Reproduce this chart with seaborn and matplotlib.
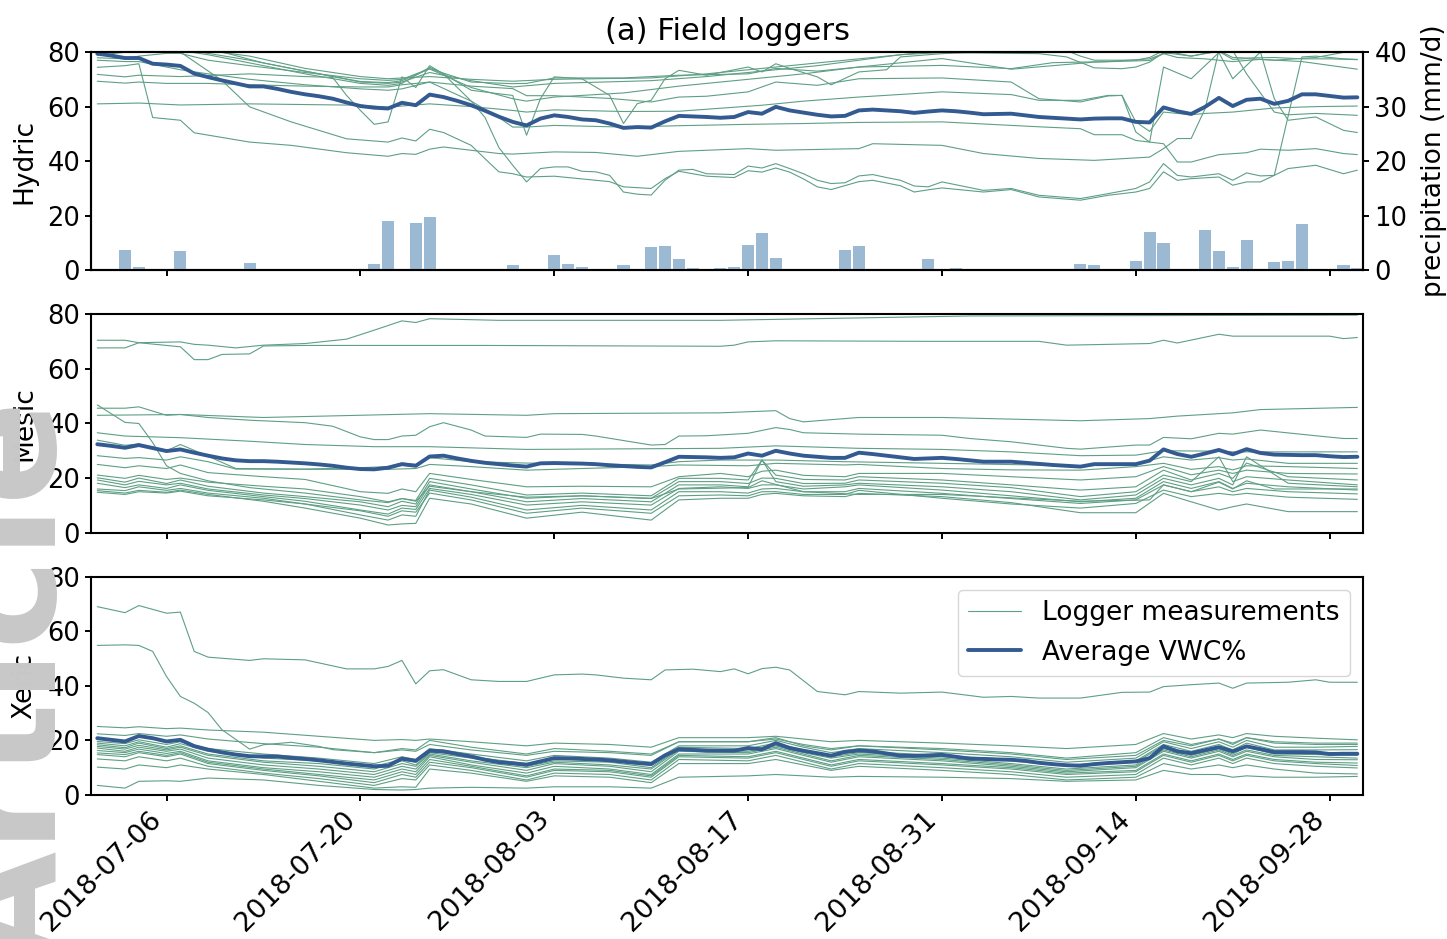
import numpy as np
import pandas as pd
import matplotlib
matplotlib.use("Agg")
import matplotlib.pyplot as plt
import matplotlib.dates as mdates
from matplotlib.lines import Line2D
import seaborn as sns

# ---------------------------------------------------------------- data
START = pd.Timestamp("2018-07-01")
N_DAYS = 92                      # 2018-07-01 .. 2018-09-30

# daily precipitation (mm/d): days after 1 July with rain, and amounts
precip_days = [2, 3, 6, 11, 20, 21, 23, 24, 30, 33, 34, 35, 38, 40, 41, 42, 43,
               45, 46, 47, 48, 49, 54, 55, 60, 62, 71, 72, 75, 76, 77, 80, 81,
               82, 83, 85, 86, 87, 90, 91]
precip_mm = [3.7, 0.7, 3.5, 1.3, 1.1, 9.0, 8.6, 9.7, 0.9, 2.75, 1.1, 0.55, 0.9,
             4.2, 4.4, 2.0, 0.4, 0.4, 0.55, 4.6, 6.8, 2.2, 3.7, 4.4, 2.0, 0.4,
             1.1, 0.9, 1.65, 7.1, 5.1, 7.3, 3.5, 0.55, 5.5, 1.5, 1.65, 8.4, 0.9,
             0.4]

# daily average VWC% per site class
hydric_avg = [79.4, 78.7, 77.8, 77.8, 75.7, 75.4, 74.9, 72.1, 70.8, 69.6, 68.5,
              67.4, 67.4, 66.5, 65.4, 64.5, 63.8, 62.9, 61.5, 60.2, 59.6, 59.3,
              61.4, 60.5, 64.4, 63.5, 62.1, 60.5, 58.5, 56.3, 54.4, 53.1, 55.6,
              56.8, 56.2, 55.3, 55.0, 53.8, 52.2, 52.5, 52.3, 54.6, 56.6, 56.4,
              56.2, 55.9, 56.2, 58.0, 57.4, 59.9, 58.6, 57.8, 57.0, 56.4, 56.6,
              58.6, 58.9, 58.6, 58.3, 57.7, 58.2, 58.6, 58.3, 57.8, 57.2, 57.3,
              57.4, 56.8, 56.2, 55.9, 55.6, 55.3, 55.6, 55.7, 55.7, 54.4, 54.2,
              59.7, 58.3, 57.3, 59.9, 63.2, 60.2, 62.5, 62.9, 61.0, 62.1, 64.5,
              64.5, 63.9, 63.3, 63.4]
mesic_avg = [32.4, 31.8, 31.1, 32.1, 31.0, 29.9, 30.5, 29.3, 28.2, 27.2, 26.5,
             26.2, 26.2, 26.0, 25.7, 25.4, 25.0, 24.5, 23.8, 23.3, 23.2, 23.8,
             25.1, 24.5, 27.9, 28.2, 27.2, 26.3, 25.6, 25.1, 24.6, 24.2, 25.4,
             25.5, 25.4, 25.3, 25.1, 24.7, 24.4, 24.1, 23.9, 25.8, 27.8, 27.7,
             27.6, 27.4, 27.6, 29.0, 28.2, 30.0, 29.0, 28.2, 27.8, 27.4, 27.4,
             29.3, 28.8, 28.2, 27.6, 27.0, 27.2, 27.4, 27.0, 26.5, 26.0, 26.0,
             26.0, 25.6, 25.2, 24.8, 24.5, 24.2, 25.1, 25.1, 25.1, 25.1, 26.4,
             30.5, 28.8, 27.8, 29.0, 30.3, 28.7, 30.6, 29.2, 28.6, 28.5, 28.4,
             28.4, 28.0, 27.7, 27.8]
xeric_avg = [20.8, 20.2, 19.6, 21.6, 20.8, 19.6, 20.2, 17.9, 16.6, 15.6, 14.8,
             14.2, 14.1, 14.1, 13.6, 13.2, 12.7, 12.1, 11.5, 11.0, 10.5, 10.7,
             13.3, 12.5, 16.2, 16.0, 15.0, 14.1, 12.9, 12.0, 11.6, 11.1, 12.3,
             13.5, 13.4, 13.2, 13.0, 12.7, 12.2, 11.7, 11.3, 14.5, 16.8, 16.5,
             16.2, 16.2, 16.2, 17.2, 16.7, 19.0, 17.2, 16.2, 15.3, 14.4, 15.8,
             16.3, 16.0, 15.2, 14.4, 14.3, 14.5, 14.7, 14.0, 13.3, 13.2, 13.0,
             12.9, 12.5, 11.8, 11.3, 10.9, 10.7, 11.3, 11.7, 12.0, 12.3, 13.5,
             17.8, 16.0, 15.3, 16.4, 17.5, 16.0, 17.8, 16.8, 15.7, 15.7, 15.7,
             15.6, 15.0, 15.1, 15.1]

# individual loggers, as (day after 1 July, VWC%) vertices
hydric_loggers = [
    [(0, 80.6), (3, 81.0), (8, 80.5), (11, 78.5), (15, 74.0), (19, 71.0), (21, 70.2),
     (22, 70.5), (24, 71.0), (27, 70.0), (30, 69.3), (33, 70.0), (40, 70.5), (44, 72.0),
     (48, 74.0), (55, 77.5), (61, 80.5), (91, 80.5)],
    [(0, 71.8), (2, 70.9), (3, 71.5), (6, 71.0), (11, 72.0), (15, 71.0), (17, 70.7),
     (18, 64.1), (19, 58.6), (20, 53.5), (21, 54.4), (22, 70.9), (23, 67.0), (24, 75.0),
     (27, 66.0), (29, 64.7), (30, 64.1), (31, 49.5), (32, 62.9), (33, 70.9), (35, 70.2),
     (37, 64.1), (38, 53.8), (39, 61.1), (40, 62.3), (41, 70.2), (42, 73.3), (44, 71.5),
     (47, 74.5), (48, 72.7), (49, 75.7), (50, 74.0), (52, 70.9), (53, 68.0), (55, 72.7),
     (57, 73.5), (58, 78.2), (61, 79.4), (66, 80.5), (70, 80.5), (71, 78.5), (72, 77.0),
     (75, 77.0), (76, 78.0), (77, 80.5), (79, 78.5), (80, 79.5), (81, 80.5), (82, 78.0),
     (83, 77.8), (85, 78.0), (87, 77.5), (89, 77.5), (91, 77.2)],
    [(0, 74.4), (2, 75.0), (3, 75.7), (4, 56.0), (6, 55.0), (7, 50.4), (11, 47.0),
     (14, 45.8), (18, 43.1), (21, 41.8), (22, 42.8), (23, 42.5), (24, 44.4), (25, 45.2),
     (27, 44.0), (29, 42.8), (30, 42.6), (33, 43.4), (36, 43.2), (39, 41.8), (42, 43.6),
     (47, 44.6), (49, 44.0), (55, 44.6), (56, 46.4), (61, 45.8), (64, 42.8), (68, 41.0),
     (72, 40.3), (76, 41.5), (77, 44.6), (78, 48.3), (79, 48.3), (80, 59.2), (81, 80.5),
     (82, 80.5), (83, 72.0), (85, 58.0), (86, 57.0), (88, 57.5), (91, 56.8)],
    [(0, 81.0), (5, 81.5), (6, 80.0), (9, 69.6), (11, 59.9), (14, 54.4), (18, 48.2),
     (21, 47.0), (22, 48.5), (23, 47.4), (24, 51.7), (25, 50.5), (27, 45.8), (28, 40.9),
     (29, 36.1), (30, 35.4), (31, 34.2), (33, 34.5), (37, 32.5), (38, 30.6), (40, 30.0),
     (41, 33.6), (42, 36.3), (44, 34.5), (46, 34.0), (47, 36.5), (48, 36.0), (49, 37.5),
     (50, 36.0), (51, 33.5), (52, 30.6), (53, 29.6), (55, 32.5), (56, 33.0), (58, 31.0),
     (59, 28.7), (60, 29.5), (61, 30.2), (64, 28.7), (66, 29.6), (68, 26.9), (71, 25.7),
     (73, 27.5), (75, 28.7), (76, 30.0), (77, 36.1), (78, 33.0), (79, 33.6), (81, 34.2),
     (82, 31.2), (83, 32.4), (84, 32.4), (85, 34.8), (87, 78.2), (88, 78.5), (90, 77.5),
     (91, 77.3)],
    [(0, 69.3), (2, 68.6), (3, 69.0), (5, 68.5), (8, 68.5), (11, 68.0), (15, 67.5),
     (19, 67.2), (21, 67.2), (22, 68.0), (24, 69.0), (27, 67.5), (30, 66.6), (31, 64.0),
     (33, 64.0), (37, 63.0), (40, 61.7), (42, 63.5), (44, 63.8), (47, 65.4), (49, 69.0),
     (52, 67.8), (55, 70.2), (61, 70.5), (66, 69.0), (68, 62.9), (71, 61.7), (73, 63.9),
     (74, 64.1), (75, 50.7), (76, 47.0), (77, 74.5), (79, 70.2), (81, 79.8), (82, 70.2),
     (83, 75.1), (84, 80.0), (85, 62.9), (86, 55.0), (88, 56.2), (90, 51.3), (91, 50.5)],
    [(0, 77.9), (2, 77.5), (3, 78.5), (5, 79.5), (6, 79.5), (8, 77.0), (11, 75.0),
     (15, 72.5), (19, 70.2), (21, 69.6), (22, 70.0), (24, 73.9), (27, 69.0), (30, 68.4),
     (31, 68.5), (33, 70.5), (38, 70.5), (42, 71.5), (47, 72.0), (49, 74.0), (52, 73.0),
     (55, 74.5), (61, 75.1), (66, 73.9), (69, 76.1), (73, 76.5), (76, 77.5), (77, 79.4),
     (78, 78.0), (80, 77.5), (82, 76.5), (84, 77.3), (87, 76.5), (91, 73.7)],
    [(0, 77.0), (2, 76.5), (3, 76.5), (5, 74.5), (6, 73.5), (8, 72.0), (11, 70.0),
     (15, 68.0), (19, 66.5), (21, 66.0), (22, 66.5), (24, 69.0), (27, 62.0), (29, 56.0),
     (30, 52.5), (31, 52.5), (33, 53.1), (38, 52.5), (42, 53.0), (47, 53.5), (51, 53.8),
     (55, 54.2), (61, 54.4), (68, 52.6), (71, 51.9), (72, 49.7), (74, 49.7), (75, 47.6),
     (77, 46.4), (78, 39.7), (79, 39.7), (81, 42.4), (83, 43.1), (84, 44.4), (86, 44.0),
     (88, 44.6), (90, 42.8), (91, 42.4)],
    [(0, 78.8), (3, 80.5), (6, 80.5), (8, 79.0), (11, 76.0), (15, 72.0), (19, 68.5),
     (21, 67.8), (22, 68.5), (24, 74.4), (25, 72.0), (26, 67.0), (27, 62.0), (28, 56.0),
     (29, 45.0), (30, 38.5), (31, 32.4), (32, 37.3), (33, 37.9), (34, 37.9), (35, 36.3),
     (36, 36.1), (37, 34.8), (38, 28.7), (39, 27.9), (40, 27.6), (41, 33.0), (42, 36.7),
     (43, 37.0), (44, 35.4), (46, 35.1), (47, 38.2), (48, 37.5), (49, 39.1), (50, 37.3),
     (51, 35.4), (52, 33.0), (53, 31.8), (54, 32.1), (55, 34.6), (56, 35.1), (57, 34.0),
     (58, 33.0), (59, 30.9), (60, 30.6), (61, 32.4), (64, 29.3), (66, 30.0), (68, 27.5),
     (71, 26.3), (73, 28.1), (75, 30.0), (76, 32.4), (77, 39.1), (78, 34.8), (79, 34.2),
     (81, 35.4), (82, 33.0), (83, 35.7), (84, 34.6), (85, 34.8), (86, 37.3), (88, 38.5),
     (90, 35.4), (91, 36.7)],
    [(0, 61.0), (3, 61.3), (6, 60.6), (11, 61.0), (19, 60.5), (21, 59.8), (22, 60.2),
     (24, 61.0), (27, 60.0), (30, 58.6), (31, 58.0), (33, 58.8), (38, 58.2), (42, 58.3),
     (48, 60.5), (51, 62.0), (55, 63.5), (61, 65.4), (66, 64.4), (68, 62.3), (71, 62.3),
     (73, 64.1), (74, 64.1), (75, 54.4), (76, 50.9), (77, 58.0), (79, 57.0), (80, 57.5),
     (82, 58.0), (85, 59.5), (88, 60.0), (91, 60.2)],
    [(0, 82.0), (4, 82.0), (6, 81.0), (8, 79.5), (11, 77.0), (15, 73.0), (19, 69.2),
     (21, 68.8), (22, 69.5), (24, 73.8), (27, 67.0), (30, 62.9), (31, 62.0), (33, 63.5),
     (38, 65.0), (42, 67.5), (47, 70.0), (51, 72.0), (55, 74.5), (61, 77.6), (66, 73.7),
     (69, 75.0), (72, 76.3), (76, 76.9), (77, 79.4), (79, 80.5), (91, 80.5)],
    [(0, 82.5), (7, 82.0), (9, 80.0), (12, 76.0), (16, 72.0), (19, 69.0), (21, 68.5),
     (22, 69.0), (24, 72.5), (27, 69.5), (30, 67.2), (33, 68.5), (40, 69.5), (44, 71.0),
     (48, 73.0), (52, 75.0), (55, 77.0), (58, 79.0), (61, 79.8), (68, 79.4), (70, 78.2),
     (72, 74.2), (74, 73.9), (75, 74.5), (76, 76.3), (77, 79.8), (79, 78.5), (80, 79.4),
     (81, 80.2), (82, 77.3), (83, 77.6), (85, 77.0), (88, 78.0), (91, 80.8)],
]

mesic_loggers = [
    [(0, 70.5), (2, 70.5), (3, 69.6), (6, 69.9), (7, 69.0), (8, 68.7), (10, 67.7),
     (12, 68.7), (15, 69.3), (18, 70.9), (20, 74.2), (22, 77.6), (23, 77.0), (24, 78.4),
     (29, 77.8), (45, 77.8), (63, 79.4), (91, 79.7)],
    [(0, 67.7), (2, 67.7), (3, 69.6), (6, 68.1), (7, 63.4), (8, 63.4), (9, 65.3),
     (11, 65.5), (12, 68.4), (15, 68.6), (28, 68.6), (45, 68.3), (46, 68.7), (47, 69.9),
     (49, 70.3), (60, 70.1), (68, 70.1), (70, 68.7), (76, 69.3), (77, 70.5), (78, 69.5),
     (81, 72.7), (82, 72.0), (89, 72.0), (90, 71.1), (91, 71.5)],
    [(0, 46.8), (2, 40.4), (3, 40.0), (4, 33.0), (5, 24.5), (6, 21.7), (8, 19.0),
     (11, 16.5), (15, 14.5), (19, 12.0), (21, 11.0), (22, 12.5), (23, 11.5), (24, 17.0),
     (27, 15.0), (31, 13.0), (35, 13.5), (40, 12.5), (42, 16.0), (47, 16.5), (48, 19.0),
     (51, 15.0), (55, 14.0), (61, 14.0), (67, 12.5), (71, 11.5), (76, 12.0), (77, 17.5),
     (79, 15.0), (81, 18.5), (82, 16.0), (83, 19.0), (85, 16.0), (88, 16.0), (91, 16.0)],
    [(0, 45.6), (2, 45.6), (3, 46.1), (5, 43.0), (6, 43.3), (8, 42.2), (11, 41.2),
     (15, 40.3), (17, 39.0), (19, 35.1), (20, 34.1), (21, 34.1), (22, 35.4), (23, 35.7),
     (24, 38.8), (25, 40.3), (27, 37.6), (28, 35.4), (31, 34.9), (32, 36.1), (35, 36.0),
     (36, 35.4), (40, 32.1), (41, 32.3), (42, 35.4), (44, 35.5), (46, 36.1), (47, 36.4),
     (49, 38.5), (50, 37.8), (51, 36.6), (55, 36.1), (61, 35.7), (63, 34.5), (66, 33.3),
     (70, 30.9), (71, 30.6), (75, 32.1), (76, 32.1), (77, 34.9), (79, 34.4), (81, 36.4),
     (82, 36.1), (84, 37.6), (88, 35.5), (90, 34.5), (91, 34.5)],
    [(0, 43.0), (6, 43.3), (12, 42.2), (24, 43.6), (31, 43.0), (33, 43.6), (45, 43.9),
     (49, 44.7), (50, 41.8), (51, 40.6), (55, 42.2), (61, 42.2), (71, 41.0), (76, 41.8),
     (78, 42.7), (82, 43.9), (84, 45.1), (91, 45.9)],
    [(0, 36.6), (2, 35.4), (6, 34.8), (11, 33.5), (15, 32.3), (20, 31.5), (24, 31.5),
     (31, 30.5), (45, 30.9), (49, 31.8), (55, 30.9), (61, 30.5), (66, 29.6), (71, 28.2),
     (75, 28.4), (77, 30.0), (80, 29.9), (82, 29.6), (91, 29.6)],
    [(0, 33.9), (2, 32.0), (3, 32.5), (5, 30.0), (6, 32.3), (8, 28.0), (10, 23.5),
     (15, 23.3), (19, 23.8), (21, 24.2), (22, 25.5), (23, 25.0), (24, 27.5), (27, 26.0),
     (31, 25.5), (40, 24.8), (42, 26.0), (45, 26.6), (49, 26.6), (54, 26.0), (61, 25.4),
     (71, 24.5), (75, 25.0), (77, 27.8), (79, 26.6), (81, 27.5), (82, 26.6), (83, 27.0),
     (86, 25.4), (91, 25.4)],
    [(0, 28.2), (2, 27.2), (3, 27.5), (5, 26.6), (6, 27.8), (8, 26.0), (10, 23.3),
     (15, 23.2), (21, 23.2), (23, 23.5), (24, 25.0), (27, 24.2), (31, 22.9), (35, 23.5),
     (40, 24.2), (42, 24.8), (47, 24.5), (49, 25.4), (54, 24.8), (55, 25.0), (61, 23.5),
     (66, 23.0), (71, 22.9), (75, 24.2), (77, 25.4), (79, 23.2), (81, 24.2), (82, 23.0),
     (83, 24.5), (86, 24.2), (91, 23.5)],
    [(0, 25.0), (2, 23.8), (3, 24.5), (5, 23.5), (6, 24.8), (8, 22.0), (12, 20.5),
     (15, 19.5), (19, 15.0), (21, 14.4), (22, 16.0), (23, 15.0), (24, 21.7), (27, 19.5),
     (31, 16.8), (35, 17.0), (40, 16.8), (42, 20.5), (45, 21.7), (47, 20.5), (48, 22.5),
     (49, 22.9), (51, 21.0), (54, 20.5), (55, 21.7), (61, 21.7), (66, 20.5), (71, 19.3),
     (75, 20.5), (77, 24.2), (79, 21.2), (81, 22.9), (82, 21.7), (83, 22.9), (86, 21.7),
     (91, 21.5)],
    [(0, 21.1), (2, 19.9), (3, 21.0), (5, 19.5), (6, 20.0), (8, 18.5), (12, 17.0),
     (15, 16.0), (19, 13.2), (21, 11.3), (22, 12.5), (23, 11.8), (24, 19.9), (27, 17.5),
     (31, 13.8), (35, 14.5), (40, 13.5), (42, 19.9), (45, 19.9), (47, 19.3), (48, 26.6),
     (49, 21.1), (51, 19.5), (54, 19.3), (55, 20.5), (61, 19.3), (66, 17.5), (71, 15.6),
     (75, 16.8), (77, 22.9), (79, 19.3), (81, 21.7), (82, 19.9), (83, 25.5), (86, 20.5),
     (91, 19.3)],
    [(0, 20.1), (2, 18.5), (3, 20.0), (5, 18.0), (6, 19.3), (8, 17.0), (12, 14.5),
     (15, 13.2), (19, 11.3), (21, 9.5), (22, 11.5), (23, 10.5), (24, 18.7), (27, 16.0),
     (31, 12.6), (35, 13.5), (40, 12.6), (42, 18.7), (45, 18.7), (47, 18.0), (48, 20.0),
     (49, 19.9), (51, 18.0), (54, 18.1), (55, 19.3), (61, 18.1), (66, 16.5), (71, 13.2),
     (75, 15.0), (77, 21.1), (79, 18.7), (81, 27.8), (82, 18.7), (83, 20.5), (86, 19.3),
     (91, 17.5)],
    [(0, 19.3), (2, 17.5), (3, 18.8), (5, 17.5), (6, 18.1), (8, 16.0), (12, 13.8),
     (15, 12.5), (19, 10.1), (21, 8.3), (22, 10.0), (23, 9.5), (24, 17.5), (27, 15.0),
     (31, 11.3), (35, 12.5), (40, 11.3), (42, 17.5), (45, 17.5), (47, 16.8), (48, 26.6),
     (49, 18.7), (51, 17.0), (54, 17.5), (55, 18.1), (61, 16.8), (66, 15.0), (71, 12.0),
     (75, 13.8), (77, 19.9), (79, 17.5), (81, 19.9), (82, 17.5), (83, 27.8), (86, 18.1),
     (91, 16.8)],
    [(0, 18.1), (2, 16.5), (3, 17.5), (5, 16.2), (6, 17.5), (8, 15.5), (12, 13.2),
     (15, 11.5), (19, 8.3), (21, 6.8), (22, 9.0), (23, 8.5), (24, 16.2), (27, 14.0),
     (31, 10.1), (35, 11.3), (40, 10.1), (42, 16.2), (45, 16.8), (47, 16.2), (48, 17.5),
     (49, 17.5), (51, 16.0), (54, 16.8), (55, 17.5), (61, 15.6), (66, 13.5), (71, 11.3),
     (75, 12.6), (77, 18.7), (79, 16.2), (81, 18.7), (82, 16.2), (83, 18.1), (86, 16.8),
     (91, 15.6)],
    [(0, 16.0), (2, 15.4), (3, 16.8), (5, 15.5), (6, 16.2), (8, 14.5), (12, 12.6),
     (15, 10.5), (19, 6.5), (21, 4.6), (22, 6.5), (23, 6.0), (24, 15.6), (27, 13.0),
     (31, 8.3), (35, 10.0), (40, 8.3), (42, 15.0), (45, 15.0), (47, 14.5), (48, 16.0),
     (49, 16.2), (51, 15.0), (54, 15.0), (55, 16.2), (61, 14.4), (66, 12.5), (71, 10.7),
     (75, 12.0), (77, 17.5), (79, 15.0), (81, 16.8), (82, 15.0), (83, 16.2), (86, 15.0),
     (91, 14.2)],
    [(0, 15.4), (2, 14.5), (3, 15.5), (5, 14.8), (6, 15.6), (8, 14.0), (12, 11.5),
     (15, 9.0), (19, 5.3), (21, 2.8), (22, 3.2), (23, 3.4), (24, 12.6), (27, 10.5),
     (31, 5.3), (35, 7.5), (40, 4.6), (42, 12.0), (45, 12.6), (47, 12.6), (48, 14.0),
     (49, 14.4), (51, 13.5), (54, 13.2), (55, 14.4), (61, 13.2), (66, 11.0), (71, 7.3),
     (75, 7.3), (77, 14.4), (79, 11.3), (81, 8.3), (82, 9.5), (83, 10.5), (86, 7.7),
     (91, 7.7)],
    [(0, 14.8), (2, 14.0), (3, 15.0), (5, 14.5), (6, 15.2), (8, 13.5), (12, 12.0),
     (15, 10.5), (19, 8.0), (21, 6.0), (22, 8.0), (23, 7.5), (24, 14.5), (27, 12.0),
     (31, 7.1), (35, 9.0), (40, 7.1), (42, 13.5), (45, 13.8), (47, 13.5), (48, 15.0),
     (49, 15.0), (51, 14.0), (54, 14.0), (55, 15.5), (61, 12.6), (66, 10.5), (71, 9.0),
     (75, 10.7), (77, 15.6), (79, 13.2), (81, 14.4), (82, 13.8), (83, 14.4), (86, 13.0),
     (91, 12.2)],
]

xeric_loggers = [
    [(0, 69.0), (2, 66.8), (3, 69.4), (5, 66.6), (6, 67.0), (7, 52.6), (8, 50.5),
     (11, 49.3), (12, 49.9), (15, 49.5), (18, 46.2), (20, 46.2), (21, 47.1), (22, 49.3),
     (23, 40.7), (24, 45.5), (25, 45.9), (27, 42.2), (29, 41.6), (31, 41.6), (33, 44.0),
     (35, 44.3), (36, 44.0), (38, 42.8), (40, 42.2), (41, 45.8), (43, 46.1), (45, 45.2),
     (46, 46.2), (47, 44.4), (48, 46.3), (49, 46.8), (50, 45.8), (52, 37.9), (54, 36.7),
     (55, 37.9), (58, 37.3), (61, 37.7), (64, 35.8), (66, 36.1), (68, 35.5), (71, 35.5),
     (74, 37.6), (76, 37.7), (77, 39.7), (79, 40.4), (81, 41.0), (82, 39.1), (83, 41.0),
     (86, 41.3), (88, 42.2), (89, 41.3), (91, 41.3)],
    [(0, 54.8), (2, 55.0), (3, 54.8), (4, 52.6), (5, 43.4), (6, 36.1), (7, 33.6),
     (8, 30.2), (9, 23.9), (11, 16.8), (12, 18.4), (14, 19.3), (16, 17.8), (17, 16.6),
     (20, 15.5), (22, 17.0), (23, 16.5), (24, 20.0), (27, 17.5), (31, 15.0), (33, 17.0),
     (37, 16.0), (40, 15.0), (42, 19.5), (47, 19.5), (49, 21.0), (51, 18.0), (53, 16.5),
     (55, 18.0), (61, 16.5), (66, 15.0), (70, 13.0), (75, 14.5), (77, 20.0), (79, 18.0),
     (81, 20.5), (82, 18.5), (83, 21.0), (85, 19.0), (88, 18.5), (91, 18.5)],
]

# the dense cluster of dry-site loggers, read on shared days
xeric_cluster_days = [0, 2, 3, 5, 6, 8, 12, 16, 20, 22, 23, 24, 27, 31, 33, 37, 40,
                      42, 47, 49, 51, 53, 55, 61, 66, 70, 75, 77, 79, 81, 82, 83,
                      85, 88, 91]
xeric_cluster = [
    [25.1, 24.6, 25.0, 24.3, 24.5, 23.8, 23.0, 21.5, 20.0, 20.3, 20.0, 20.5, 19.5,
     18.0, 19.0, 18.5, 17.5, 21.0, 21.0, 21.5, 20.5, 19.5, 20.0, 19.0, 18.0, 17.0,
     18.5, 22.5, 20.5, 22.0, 21.0, 22.5, 21.5, 20.8, 20.2],
    [22.4, 21.8, 22.5, 21.5, 22.0, 20.5, 18.8, 17.5, 15.5, 16.5, 16.0, 18.5, 16.5,
     14.5, 16.0, 15.5, 14.5, 19.5, 19.5, 20.5, 18.5, 17.0, 18.0, 17.0, 15.5, 13.5,
     15.5, 21.0, 18.5, 20.5, 19.0, 21.0, 19.5, 19.0, 19.0],
    [19.6, 18.8, 20.2, 18.5, 19.5, 17.0, 15.0, 13.5, 11.5, 14.0, 13.0, 17.0, 15.0,
     12.5, 14.5, 13.5, 12.0, 18.0, 18.0, 20.0, 17.5, 15.5, 17.0, 15.5, 14.0, 12.0,
     13.5, 19.5, 17.0, 19.5, 17.5, 20.0, 17.5, 17.5, 17.8],
    [19.0, 18.0, 19.5, 17.5, 18.8, 16.0, 13.5, 12.5, 10.5, 13.0, 12.0, 16.0, 14.0,
     11.5, 13.5, 12.5, 11.0, 17.5, 17.0, 19.0, 16.5, 14.5, 16.0, 14.5, 13.0, 11.0,
     12.5, 18.5, 16.0, 18.5, 16.5, 19.0, 16.5, 16.5, 16.6],
    [18.4, 17.3, 19.0, 17.0, 18.0, 15.0, 12.5, 11.5, 9.5, 12.5, 11.0, 15.5, 13.5,
     10.5, 12.5, 12.0, 10.0, 17.0, 16.5, 18.5, 16.0, 14.0, 15.5, 14.0, 12.5, 10.5,
     12.0, 18.0, 15.0, 17.5, 16.0, 18.0, 16.0, 15.5, 15.5],
    [17.8, 16.8, 18.2, 16.5, 17.5, 14.5, 12.0, 10.5, 8.5, 11.5, 10.5, 15.0, 12.5,
     10.0, 12.0, 11.0, 9.5, 16.5, 16.0, 18.0, 15.5, 13.5, 15.0, 13.5, 11.5, 9.5,
     11.0, 17.0, 14.5, 17.0, 15.0, 17.5, 15.0, 14.8, 14.5],
    [17.2, 16.0, 17.5, 16.0, 16.8, 13.5, 11.0, 9.5, 7.5, 10.5, 9.5, 14.5, 12.0,
     9.0, 11.5, 10.5, 8.5, 16.0, 15.5, 17.5, 15.0, 12.5, 14.5, 13.0, 11.0, 9.0,
     10.5, 16.5, 14.0, 16.5, 14.5, 16.5, 14.5, 14.0, 13.5],
    [16.3, 15.5, 16.8, 15.2, 16.0, 12.5, 10.0, 8.5, 6.5, 9.5, 8.5, 14.0, 11.0,
     8.0, 10.5, 9.5, 7.5, 15.0, 15.0, 17.0, 14.5, 12.0, 14.0, 12.5, 10.5, 8.5,
     10.0, 16.0, 13.5, 16.0, 14.0, 16.0, 14.0, 13.0, 12.9],
    [15.4, 14.8, 16.0, 14.5, 15.5, 12.0, 9.5, 7.5, 5.5, 8.5, 7.5, 13.0, 10.5,
     7.0, 9.5, 9.0, 7.0, 14.5, 14.0, 16.0, 13.5, 11.0, 13.0, 11.5, 10.0, 8.0,
     9.0, 15.0, 12.5, 15.0, 13.0, 15.0, 13.0, 12.0, 11.7],
    [14.8, 14.0, 15.5, 14.0, 15.0, 11.5, 9.0, 7.0, 4.5, 7.5, 6.5, 12.0, 10.0,
     6.5, 9.0, 8.5, 6.5, 14.0, 13.5, 15.5, 13.0, 10.5, 12.5, 11.0, 9.5, 7.5,
     8.5, 14.5, 12.0, 14.5, 12.5, 14.5, 12.5, 11.5, 10.8],
    [13.2, 12.5, 14.0, 12.5, 13.5, 10.5, 8.0, 6.0, 3.5, 6.0, 5.5, 11.0, 9.0,
     5.5, 8.0, 7.5, 5.5, 13.0, 12.5, 14.5, 12.0, 9.5, 11.5, 10.0, 8.5, 6.5,
     7.5, 13.5, 11.0, 13.5, 11.5, 13.5, 11.5, 10.5, 9.9],
    [10.2, 9.5, 11.0, 10.0, 11.0, 9.5, 7.5, 5.0, 2.5, 3.0, 2.8, 9.5, 8.0,
     5.0, 7.0, 6.5, 4.5, 11.5, 11.5, 13.0, 11.0, 9.0, 10.5, 9.0, 7.5, 5.5,
     6.5, 11.5, 9.5, 11.0, 10.0, 11.0, 9.5, 8.0, 7.7],
    [3.5, 2.5, 5.0, 5.2, 5.0, 6.2, 5.5, 3.5, 2.0, 1.8, 2.0, 2.5, 2.8,
     2.5, 3.0, 3.0, 2.5, 6.5, 7.0, 7.5, 7.0, 6.5, 6.8, 6.5, 6.0, 5.0,
     5.5, 9.0, 7.5, 7.5, 6.5, 7.0, 6.5, 6.5, 6.8],
]

site_names = ["Hydric", "Mesic", "Xeric"]
tick_dates = ["2018-07-06", "2018-07-20", "2018-08-03", "2018-08-17",
              "2018-08-31", "2018-09-14", "2018-09-28"]

LOGGER_C = "#5e9f85"
AVG_C = "#335b92"
BAR_C = "#9cb9d3"

# ---------------------------------------------------------------- style
sns.set_theme(style="ticks", rc={
    "axes.edgecolor": "black", "axes.linewidth": 1.5,
    "text.color": "black", "axes.labelcolor": "black",
    "xtick.color": "black", "ytick.color": "black",
    "xtick.major.size": 4.5, "ytick.major.size": 4.5,
    "xtick.major.width": 1.4, "ytick.major.width": 1.4,
    "font.size": 19, "axes.titlesize": 22, "axes.labelsize": 19,
    "xtick.labelsize": 19.5, "ytick.labelsize": 18.5, "legend.fontsize": 19,
})
plt.rcParams["font.family"] = ["DejaVu Sans"]

dates = pd.date_range(START, periods=N_DAYS, freq="D")
precip = np.zeros(N_DAYS)
precip[precip_days] = precip_mm


def logger_frame(loggers):
    rows = []
    for i, pts in enumerate(loggers):
        for d, v in pts:
            rows.append((i, START + pd.Timedelta(days=d), v))
    return pd.DataFrame(rows, columns=["logger", "date", "vwc"])


xeric_all = xeric_loggers + [list(zip(xeric_cluster_days, c)) for c in xeric_cluster]
panels = [(hydric_loggers, hydric_avg), (mesic_loggers, mesic_avg), (xeric_all, xeric_avg)]

fig, axes = plt.subplots(3, 1, figsize=(14.47, 9.39), dpi=100, sharex=True)
fig.subplots_adjust(left=0.0631, right=0.9422, top=0.9446, bottom=0.1534, hspace=0.2015)

for ax, name, (loggers, avg) in zip(axes, site_names, panels):
    df = logger_frame(loggers)
    sns.lineplot(data=df, x="date", y="vwc", units="logger", estimator=None,
                 color=LOGGER_C, linewidth=0.8, ax=ax, legend=False)
    sns.lineplot(x=dates, y=avg, color=AVG_C, linewidth=2.8, ax=ax, legend=False)
    ax.set_ylim(0, 80)
    ax.set_yticks([0, 20, 40, 60, 80])
    ax.set_ylabel(name, labelpad=7)
    ax.set_xlabel("")

# precipitation on a second axis in the top panel
ax_p = axes[0].twinx()
ax_p.bar(dates, precip, width=0.87, color=BAR_C, linewidth=0)
ax_p.set_ylim(0, 40)
ax_p.set_yticks([0, 10, 20, 30, 40])
ax_p.set_ylabel("precipitation (mm/d)", labelpad=10)

axes[0].set_title("(a) Field loggers", pad=9)

half_bar = pd.Timedelta(hours=10.4)
axes[-1].set_xlim(dates[0] - half_bar, dates[-1] + half_bar)
axes[-1].set_xticks(pd.to_datetime(tick_dates))
axes[-1].xaxis.set_major_formatter(mdates.DateFormatter("%Y-%m-%d"))
plt.setp(axes[-1].get_xticklabels(), rotation=45, ha="right")

handles = [Line2D([], [], color=LOGGER_C, linewidth=0.8),
           Line2D([], [], color=AVG_C, linewidth=2.8)]
axes[-1].legend(handles, ["Logger measurements", "Average VWC%"], loc="upper right")

# publisher watermark along the left edge
fig.text(0.0385, -0.033, "Article", rotation=90, rotation_mode="anchor",
         ha="left", va="baseline", fontsize=111, fontweight="bold",
         color="#c8c8c8", zorder=20)

fig.savefig("out.png", dpi=100)
